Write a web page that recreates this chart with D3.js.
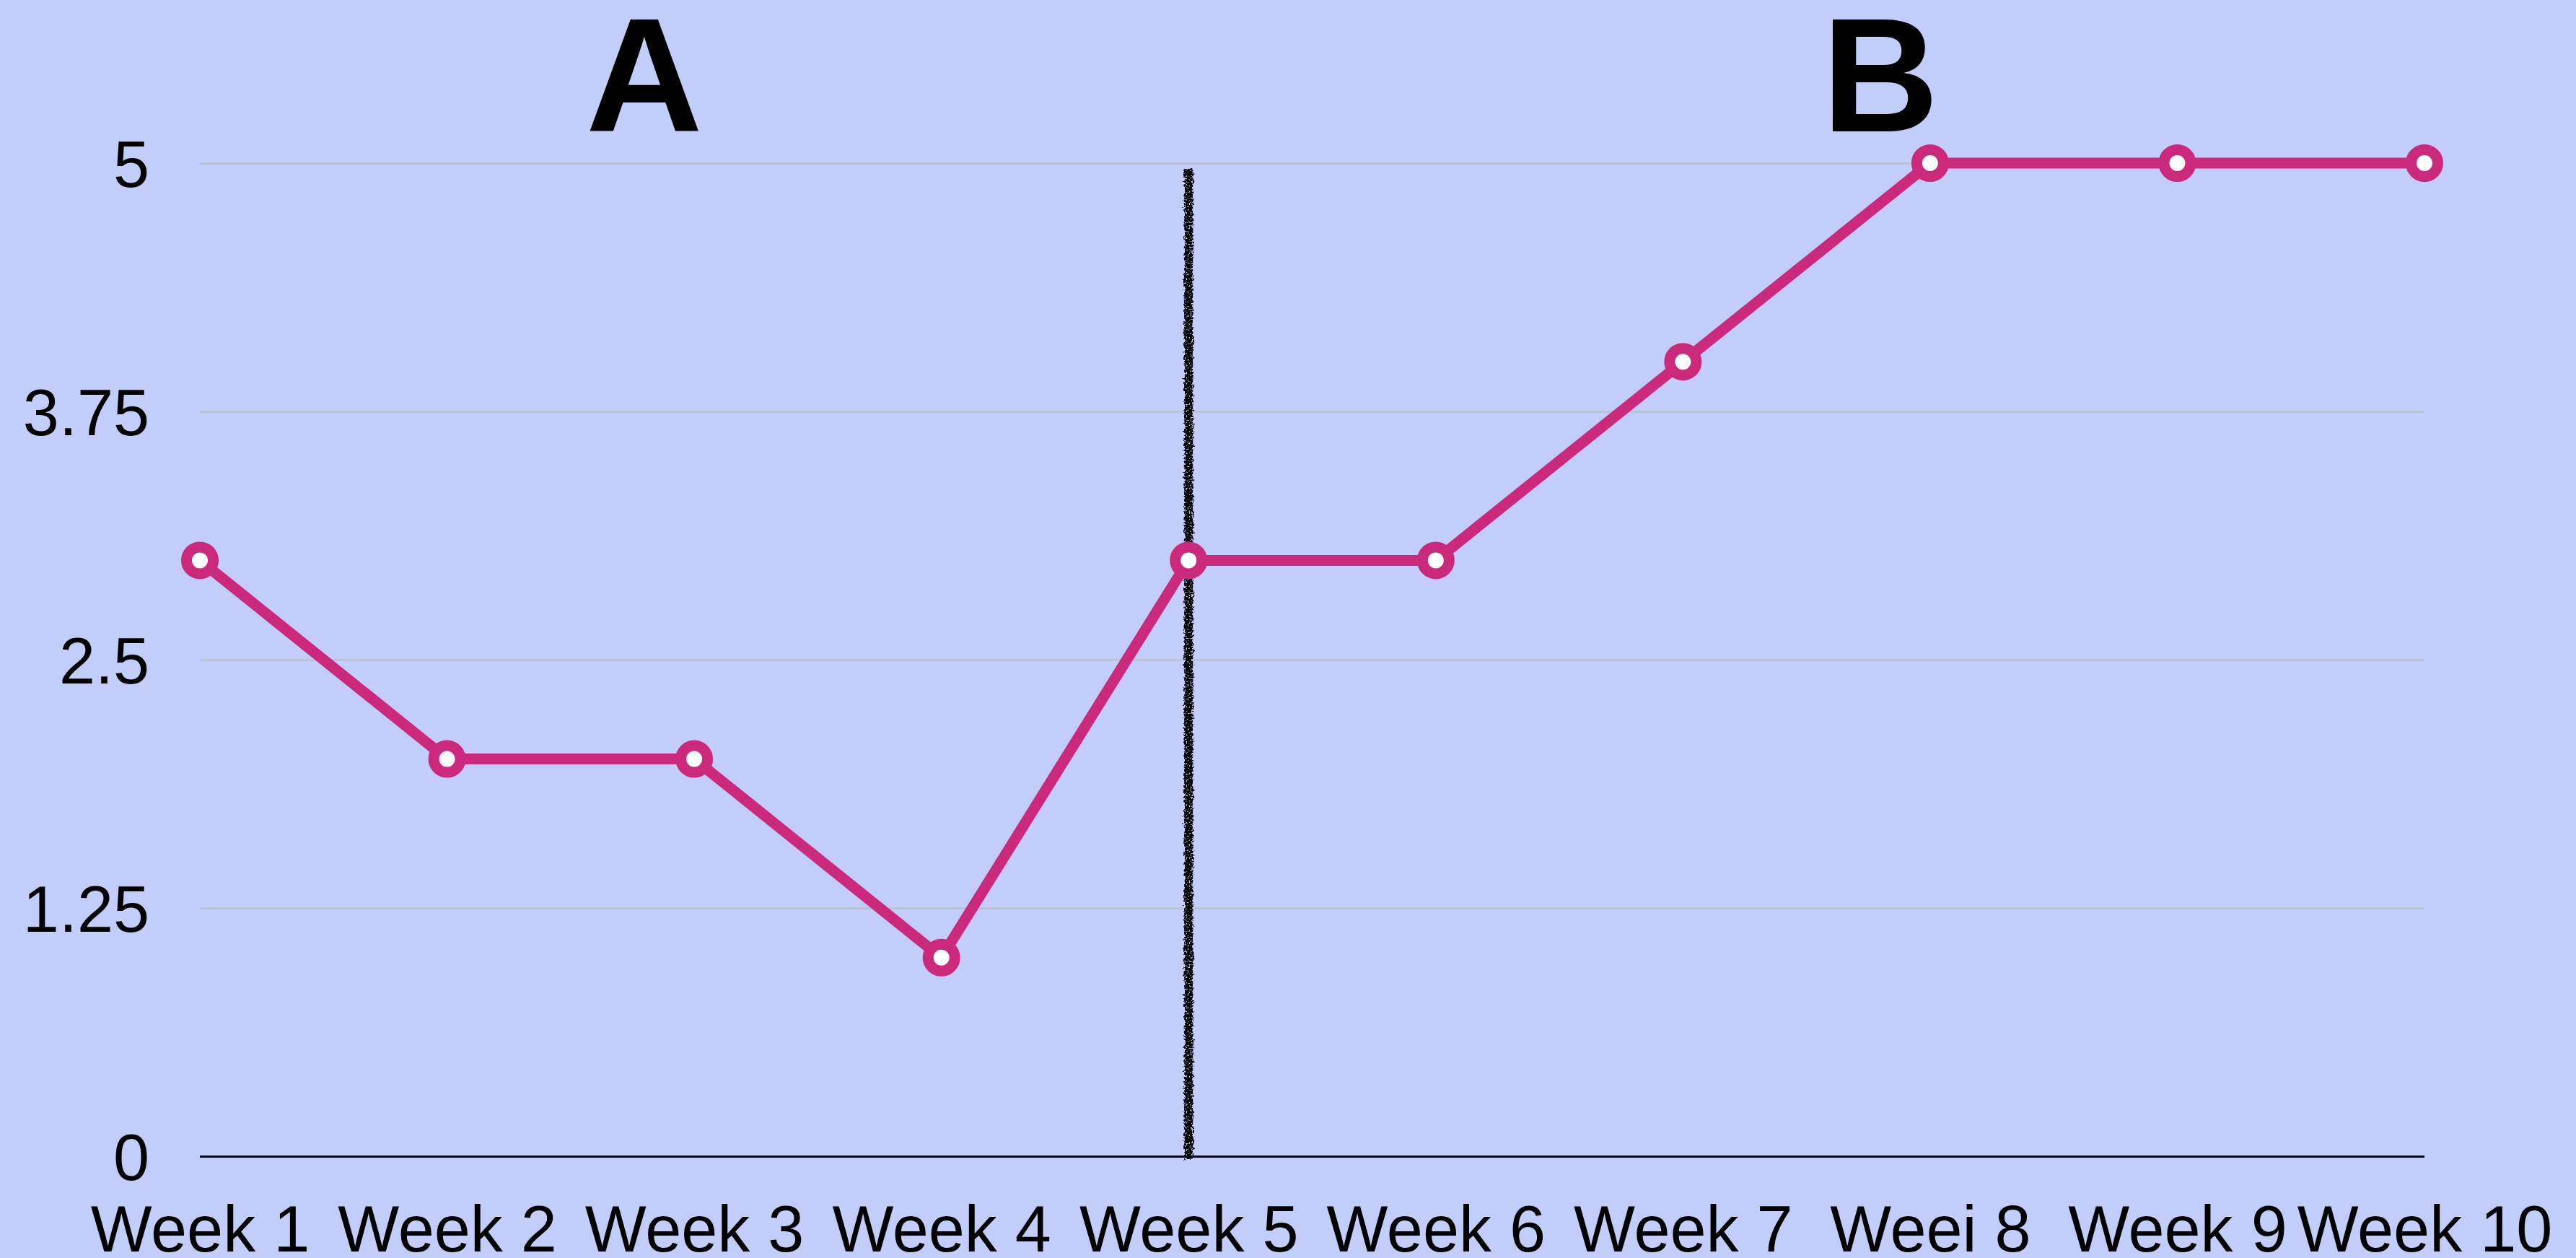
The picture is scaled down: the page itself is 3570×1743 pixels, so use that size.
<!DOCTYPE html>
<html>
<head>
<meta charset="utf-8">
<script src="https://cdn.jsdelivr.net/npm/d3@7"></script>
<style>
  html, body { margin: 0; padding: 0; background: #c3cdf9; }
  svg { display: block; }
  .axis text { font-family: "Liberation Sans", Arial, Helvetica, sans-serif; font-size: 90px; fill: #000; }
  .phase { font-family: "Liberation Sans", Arial, Helvetica, sans-serif; font-weight: bold; font-size: 224px; fill: #000; }
</style>
</head>
<body>
<svg id="chart"></svg>
<script>
// chart data
const weeks = ["Week 1", "Week 2", "Week 3", "Week 4", "Week 5", "Week 6", "Week 7", "Weei 8", "Week 9", "Week 10"];
const scores = [3, 2, 2, 1, 3, 3, 4, 5, 5, 5];
const yTicks = [0, 1.25, 2.5, 3.75, 5];
const phaseLabels = ["A", "B"];
const phaseStart = "Week 5";

const W = 3570, H = 1743;
const margin = {top: 226, right: 210, bottom: 141, left: 277};
const LINE_COLOR = '#cb2a7c';

const svg = d3.select('#chart').attr('width', W).attr('height', H);
svg.append('rect').attr('width', W).attr('height', H).attr('fill', '#c3cdf9');

// rough chalk-like stroke for the phase change line
const defs = svg.append('defs');
const chalk = defs.append('filter').attr('id', 'chalk')
    .attr('filterUnits', 'userSpaceOnUse')
    .attr('x', 0).attr('y', 0).attr('width', W).attr('height', H);
chalk.append('feTurbulence').attr('type', 'fractalNoise').attr('baseFrequency', '0.3')
    .attr('numOctaves', 3).attr('seed', 4).attr('result', 'noise');
chalk.append('feDisplacementMap').attr('in', 'SourceGraphic').attr('in2', 'noise')
    .attr('scale', 8).attr('xChannelSelector', 'R').attr('yChannelSelector', 'G').attr('result', 'rough');
chalk.append('feTurbulence').attr('type', 'fractalNoise').attr('baseFrequency', '0.5')
    .attr('numOctaves', 2).attr('seed', 9).attr('result', 'speck');
chalk.append('feColorMatrix').attr('in', 'speck').attr('type', 'matrix')
    .attr('values', '0 0 0 0 0  0 0 0 0 0  0 0 0 0 0  -6 0 0 0 4.4').attr('result', 'mask');
chalk.append('feComposite').attr('in', 'rough').attr('in2', 'mask').attr('operator', 'in');

const x = d3.scalePoint()
    .domain(weeks)
    .range([margin.left, W - margin.right]);

const y = d3.scaleLinear()
    .domain([0, 5])
    .range([H - margin.bottom, margin.top]);

// y axis with gridlines
const yAxis = svg.append('g')
    .attr('class', 'axis y-axis')
    .attr('transform', `translate(${margin.left},0)`)
    .call(d3.axisLeft(y)
        .tickValues(yTicks)
        .tickFormat(d3.format('~g'))
        .tickSize(-(W - margin.left - margin.right))
        .tickPadding(70));
yAxis.select('.domain').remove();
yAxis.selectAll('.tick line')
    .attr('stroke', d => d === 0 ? '#000' : '#b9bcc9')
    .attr('stroke-width', d => d === 0 ? 3 : 2);
yAxis.selectAll('.tick text').attr('dy', '0.36em');

// x axis labels
const xAxis = svg.append('g')
    .attr('class', 'axis x-axis')
    .attr('transform', `translate(0,${y(0)})`)
    .call(d3.axisBottom(x).tickSize(0).tickPadding(68));
xAxis.select('.domain').remove();

// phase change line (a rect, so the filter has a real bounding box)
svg.append('rect')
    .attr('x', x(phaseStart) - 6)
    .attr('y', y(5) + 8)
    .attr('width', 12)
    .attr('height', y(0) - y(5) - 4)
    .attr('fill', '#000')
    .attr('filter', 'url(#chalk)');

// phase titles
svg.selectAll('.phase')
    .data(phaseLabels)
    .join('text')
    .attr('class', 'phase')
    .attr('text-anchor', 'middle')
    .attr('x', (d, i) => i === 0 ? 893 : 2606)
    .attr('y', 182)
    .text(d => d);

// series
const points = weeks.map((w, i) => ({week: w, value: scores[i]}));

svg.append('path')
    .datum(points)
    .attr('fill', 'none')
    .attr('stroke', LINE_COLOR)
    .attr('stroke-width', 15)
    .attr('stroke-linejoin', 'round')
    .attr('d', d3.line().x(d => x(d.week)).y(d => y(d.value)));

svg.selectAll('.marker')
    .data(points)
    .join('circle')
    .attr('class', 'marker')
    .attr('cx', d => x(d.week))
    .attr('cy', d => y(d.value))
    .attr('r', 18.5)
    .attr('fill', '#fff')
    .attr('stroke', LINE_COLOR)
    .attr('stroke-width', 15);
</script>
</body>
</html>
